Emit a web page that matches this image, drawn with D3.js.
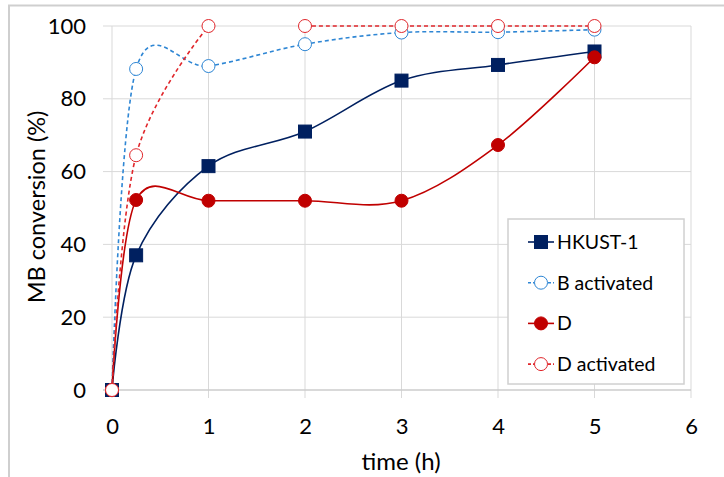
<!DOCTYPE html>
<html>
<head>
<meta charset="utf-8">
<script src="https://cdn.jsdelivr.net/npm/d3@7"></script>
<style>
  body { margin: 0; background: #fff; }
  text { font-family: Lato, "Open Sans", sans-serif; fill: #000; }
</style>
</head>
<body>
<div id="chart"></div>
<script>
const W = 724, H = 477;

// data
const times = [0, 0.25, 1, 2, 3, 4, 5];
const hkust = [0, 37, 61.5, 71, 85, 89.3, 93];
const bActivated = [0, 88.2, 89, 95, 98.2, 98.3, 99];
const dSample = [0, 52.2, 52, 52, 52, 67.3, 91.4];
// D activated has a gap between 1 h and 2 h
const dActTimes = [0, 0.25, 1, 1.5, 2, 3, 4, 5];
const dActivated = [0, 64.5, 100, null, 100, 100, 100, 100];

const xTicks = [0, 1, 2, 3, 4, 5, 6];
const yTicks = [0, 20, 40, 60, 80, 100];

const series = [
  { name: "HKUST-1", t: times, v: hkust, color: "#002060", dash: null, marker: "square", fill: "#002060" },
  { name: "B activated", t: times, v: bActivated, color: "#2E86D4", dash: "4,3", marker: "circle", fill: "#fff" },
  { name: "D", t: times, v: dSample, color: "#C00000", dash: null, marker: "circle", fill: "#C00000" },
  { name: "D activated", t: dActTimes, v: dActivated, color: "#E0262B", dash: "4,3", marker: "circle", fill: "#fff" }
];

const x = d3.scaleLinear().domain([0, 6]).range([112, 691]);
const y = d3.scaleLinear().domain([0, 100]).range([390, 26]);

const svg = d3.select("#chart").append("svg")
    .attr("width", W)
    .attr("height", H);

// outer frame (only top and left edges show)
svg.append("path")
    .attr("d", "M9," + H + "V5.5H" + W)
    .attr("fill", "none")
    .attr("stroke", "#cfcfcf")
    .attr("stroke-width", 2);

// gridlines
svg.append("g").selectAll("line")
    .data(yTicks.filter(d => d > 0))
    .enter().append("line")
    .attr("x1", x(0) - 9).attr("x2", x(6))
    .attr("y1", d => y(d)).attr("y2", d => y(d))
    .attr("stroke", "#d9d9d9");

svg.append("g").selectAll("line")
    .data(xTicks)
    .enter().append("line")
    .attr("x1", d => x(d)).attr("x2", d => x(d))
    .attr("y1", y(100)).attr("y2", y(0) + 8)
    .attr("stroke", "#d9d9d9");

// x axis line
svg.append("line")
    .attr("x1", x(0) - 9).attr("x2", x(6))
    .attr("y1", y(0)).attr("y2", y(0))
    .attr("stroke", "#cccccc")
    .attr("stroke-width", 1.5);

// tick labels via d3 axes
const xAxis = svg.append("g")
    .attr("transform", "translate(0," + (y(0) + 25) + ")")
    .call(d3.axisBottom(x).tickValues(xTicks).tickSize(0).tickFormat(d3.format("d")));
xAxis.select(".domain").remove();
xAxis.selectAll("text").style("font-size", "22px").style("font-family", "Lato, sans-serif").attr("fill", "#000");

const yAxis = svg.append("g")
    .attr("transform", "translate(86,0)")
    .call(d3.axisLeft(y).tickValues(yTicks).tickSize(0).tickPadding(0));
yAxis.select(".domain").remove();
yAxis.selectAll("text").style("font-size", "22px").style("font-family", "Lato, sans-serif").attr("fill", "#000");

// axis titles
svg.append("text")
    .attr("x", 401)
    .attr("y", 470)
    .attr("text-anchor", "middle")
    .style("font-size", "24px")
    .text("time (h)");

svg.append("text")
    .attr("transform", "translate(45," + (y(50) - 1) + ")rotate(-90)")
    .attr("text-anchor", "middle")
    .style("font-size", "23.5px")
    .text("MB conversion (%)");

// smooth lines, Excel-like
const line = d3.line()
    .defined(d => d[1] != null)
    .x(d => x(d[0]))
    .y(d => y(d[1]))
    .curve(d3.curveCardinal.tension(0));

function drawMarker(g, s, cx, cy) {
  if (s.marker === "square") {
    g.append("rect")
      .attr("x", cx - 6.5).attr("y", cy - 6.5)
      .attr("width", 13).attr("height", 13)
      .attr("fill", s.fill)
      .attr("stroke", s.color);
  } else {
    g.append("circle")
      .attr("cx", cx).attr("cy", cy)
      .attr("r", 6.5)
      .attr("fill", s.fill)
      .attr("stroke", s.color)
      .attr("stroke-width", 1);
  }
}

series.forEach(function(s) {
  const pts = s.t.map((t, i) => [t, s.v[i]]);
  const g = svg.append("g");
  g.append("path")
    .attr("d", line(pts))
    .attr("fill", "none")
    .attr("stroke", s.color)
    .attr("stroke-width", 1.6)
    .attr("stroke-dasharray", s.dash);
  pts.filter(d => d[1] != null).forEach(d => drawMarker(g, s, x(d[0]), y(d[1])));
});

// legend
const lg = svg.append("g").attr("transform", "translate(508,219)");
lg.append("rect")
    .attr("width", 176).attr("height", 165)
    .attr("fill", "#fff")
    .attr("stroke", "#d0d0d0")
    .attr("stroke-width", 1.5);

series.forEach(function(s, i) {
  const ly = 23 + i * 40.7;
  const row = lg.append("g");
  row.append("line")
    .attr("x1", 20).attr("x2", 46)
    .attr("y1", ly).attr("y2", ly)
    .attr("stroke", s.color)
    .attr("stroke-width", 1.6)
    .attr("stroke-dasharray", s.dash ? "3,2" : null);
  drawMarker(row, s, 33, ly);
  row.append("text")
    .attr("x", 49)
    .attr("y", ly)
    .attr("dy", "0.36em")
    .style("font-size", "19.5px")
    .text(s.name);
});
</script>
</body>
</html>
